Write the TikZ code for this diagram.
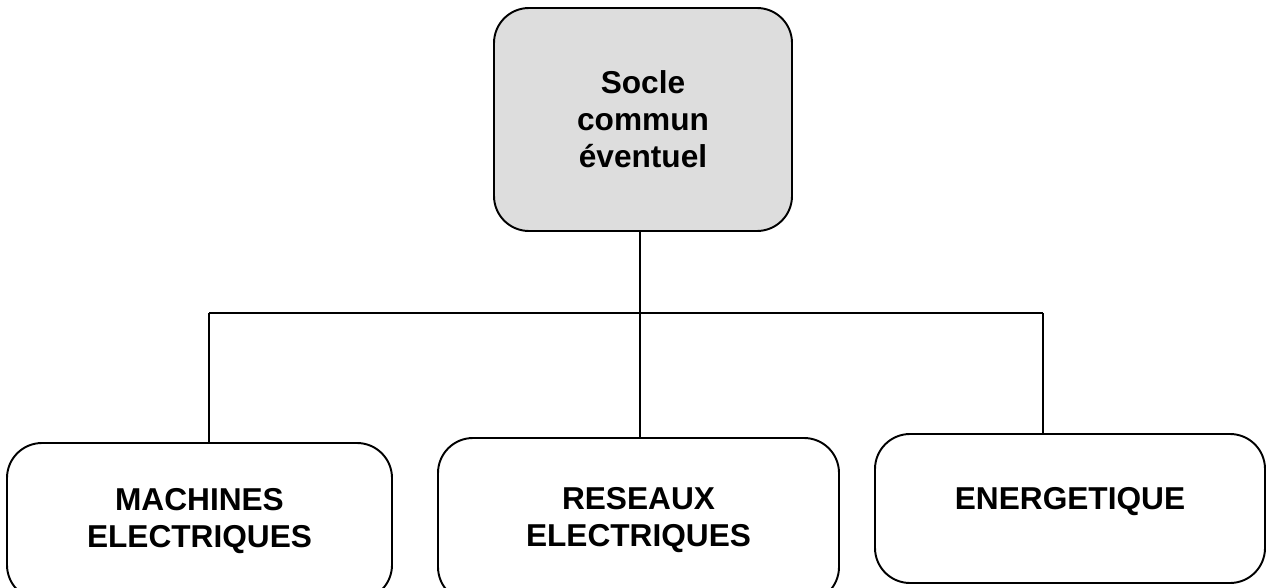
\documentclass[tikz,border=0pt]{standalone}
\usepackage{fontspec}
\setmainfont{Liberation Sans}
\definecolor{soclegray}{RGB}{221,221,221}
\begin{document}
\begin{tikzpicture}[line width=1.1pt]
  \tikzstyle{box}=[draw,rounded corners=0.7cm,align=center,font=\bfseries\fontsize{18}{21}\selectfont]
  \useasboundingbox (0,0) rectangle (25.32,11.74);
  \clip (0,0) rectangle (25.32,11.74);
  \node[box,fill=soclegray,minimum width=5.96cm,minimum height=4.46cm] (socle) at (12.86,9.35) {Socle\\commun\\éventuel};
  \node[box,minimum width=7.7cm,minimum height=3.14cm] (mach) at (3.99,1.31) {MACHINES\\ELECTRIQUES};
  \node[box,minimum width=8.02cm,minimum height=3.28cm] (res) at (12.77,1.34) {RESEAUX\\ELECTRIQUES};
  \node[box,minimum width=7.8cm,minimum height=2.98cm,text depth=0.4cm] (ener) at (21.4,1.57) {ENERGETIQUE};
  \coordinate (hub) at (12.8,5.48);
  \coordinate (jl) at (4.18,5.48);
  \coordinate (jr) at (20.86,5.48);
  \draw (socle.south -| hub) -- (hub);
  \draw (jl) -- (jr);
  \draw (jl) -- (jl |- mach.north);
  \draw (hub) -- (hub |- res.north);
  \draw (jr) -- (jr |- ener.north);
\end{tikzpicture}
\end{document}
